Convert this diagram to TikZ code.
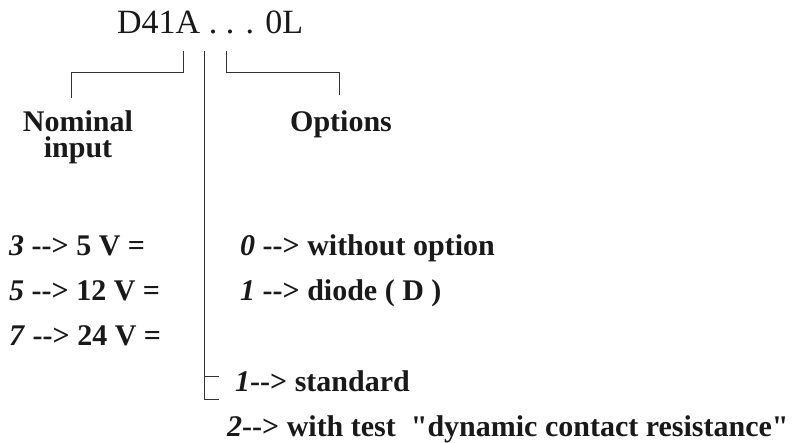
\documentclass[tikz,border=0pt]{standalone}
\usepackage{fontspec}
\setmainfont{Liberation Serif}[Ligatures=TeXOff]
\newcommand{\arw}{-{}-{}>}
\begin{document}
\begin{tikzpicture}[x=1pt,y=-1pt,
  lbl/.style={font=\fontsize{30}{34}\selectfont\bfseries, inner sep=0pt, anchor=base west, text=black!90},
  ttl/.style={font=\fontsize{34}{40}\selectfont, inner sep=0pt, anchor=base west, text=black!90},
  ln/.style={line width=1pt, draw=black!80}]
\useasboundingbox (0,0) rectangle (801,443);
% title
\node[ttl] (code) at (117,34) {D41A . . . 0L};
% headings
\node[lbl, anchor=base, align=center] (nom) at (78,158) {Nominal\\[-8pt]input};
\node[lbl] (opt) at (290,132) {Options};
% left column
\node[lbl] (v3) at (9,256) {\textit{3} \arw\ 5 V =};
\node[lbl] (v5) at (9,301) {\textit{5} \arw\ 12 V =};
\node[lbl] (v7) at (9,346) {\textit{7} \arw\ 24 V =};
% right column
\node[lbl] (o0) at (240,256) {\textit{0} \arw\ without option};
\node[lbl] (o1) at (240,301) {\textit{1} \arw\ diode ( D )};
% bottom
\node[lbl] (s1) at (235,392) {\textit{1}\arw\ standard};
\node[lbl] (s2) at (227,437) {\textit{2}\arw\ with test\ \ "dynamic contact resistance"};
% brackets
\coordinate (lt) at (183,51);
\coordinate (lbar) at (0,73);
\coordinate (lb) at (71,98);
\draw[ln] (lt) -- (lt |- lbar) -| (lb);
\coordinate (rt) at (226,51);
\coordinate (rb) at (339,95);
\draw[ln] (rt) -- (rt |- lbar) -| (rb);
\coordinate (mt) at (204,51);
\coordinate (mb) at (204,400);
\coordinate (mbe) at (219,400);
\coordinate (mtick) at (204,377);
\coordinate (mticke) at (219,377);
\draw[ln] (mt) -- (mb) -- (mbe);
\draw[ln] (mtick) -- (mticke);
\end{tikzpicture}
\end{document}
